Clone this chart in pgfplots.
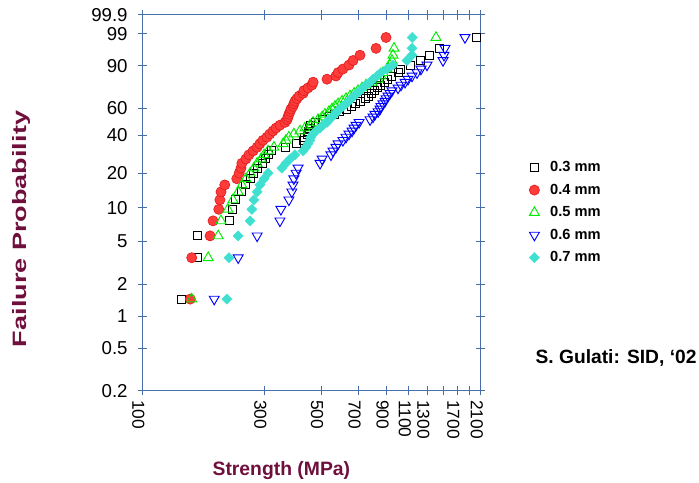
\documentclass[border=0pt]{standalone}
\usepackage{graphicx}
\usepackage{pgfplots}
\pgfplotsset{compat=1.18}
\usepackage{pgfplotstable}
\usepackage{fontspec}
\setmainfont{Liberation Sans}

\definecolor{axblue}{RGB}{70,110,170}
\definecolor{labmaroon}{RGB}{110,15,60}
\definecolor{ptred}{RGB}{255,60,60}
\definecolor{ptredline}{RGB}{225,30,30}
\definecolor{ptgreen}{RGB}{0,235,0}
\definecolor{ptblue}{RGB}{0,0,255}
\definecolor{ptcyan}{RGB}{64,224,208}

% F = failure probability (%), median ranks; s03..s07 = strength (MPa)
\pgfplotstableread{
F      s03  s04  s05  s06  s07
1.446  142  154  156  191  214
3.512  164  156  181  237  218
5.579  165  184  198  281  237
7.645  220  189  203  345  264
9.711  226  199  216  348  268
11.777 232  201  226  374  273
13.843 245  203  237  384  281
15.909 252  210  245  388  288
17.975 264  234  254  391  299
20.041 271  239  264  399  310
22.107 281  243  273  406  351
24.174 294  245  281  495  364
26.240 302  254  291  504  378
28.306 310  261  299  546  395
30.372 321  271  310  556  425
32.438 361  281  327  571  436
34.504 399  288  355  582  444
36.570 425  296  364  608  452
38.636 432  307  374  625  456
40.702 440  315  391  642  465
42.769 444  324  413  660  477
44.835 448  333  432  672  495
46.901 456  345  452  684  508
48.967 477  361  465  703  527
51.033 504  368  486  776  536
53.099 541  371  504  797  551
55.165 561  374  517  811  566
57.231 592  378  536  834  576
59.298 625  381  551  849  592
61.364 654  388  566  856  608
63.430 678  391  582  872  625
65.496 709  395  603  888  642
67.562 742  402  625  896  654
69.628 762  410  648  912  672
71.694 783  425  672  929  690
73.760 804  428  696  945  709
75.826 826  444  722  998  728
77.893 856  460  748  1025 748
79.959 880  465  790  1063 776
82.025 904  527  834  1092 797
84.091 945  571  856  1132 826
86.157 998  582  872  1184 856
88.223 1016 608  904  1227 904
90.289 1112 642  929  1295 954
92.355 1216 666  945  1496 1082
94.421 1319 709  954  1509 1130
96.488 1443 819  963  1523 1132
98.554 2013 896  1404 1823 1135
}\strength

\begin{document}
\begin{tikzpicture}
\path[use as bounding box] (-106.7pt,-69.2pt) rectangle (417.5pt,293.0pt);
\begin{axis}[
  at={(0pt,0pt)}, anchor=south west,
  scale only axis, width=253.8pt, height=281.8pt,
  xmode=log, xmin=100, xmax=2100,
  ymin=-6.2136, ymax=1.9326,
  xtick={100,300,500,700,900,1100,1300,1500,1700,1900,2100},
  xticklabels={100,300,500,700,900,1100,1300,,1700,,2100},
  xminorticks=false,
  ytick={-6.2136,-5.2958,-4.6002,-3.9019,-2.9702,-2.2504,-1.4999,-0.6717,-0.0874,0.8340,1.5272,1.9326},
  yticklabels={0.2,0.5,1,2,5,10,20,40,60,90,99,99.9},
  tick align=center, major tick length=7pt,
  axis line style={axblue, line width=0.8pt},
  every tick/.style={axblue, line width=0.8pt},
  xticklabel style={rotate=-90, anchor=west, font=\fontsize{13}{13}\selectfont, yshift=-3pt},
  yticklabel style={font=\fontsize{14}{14}\selectfont, xshift=-4pt},
  clip=false,
  legend cell align=left,
  legend style={at={(1.131,0.625)}, anchor=north west, draw=none, fill=none,
    font=\bfseries\fontsize{11}{11}\selectfont, row sep=3.7pt,
    /tikz/every odd column/.append style={column sep=6pt}},
]
\addplot[only marks, mark=square, mark size=3pt, draw=black, line width=0.7pt]
  table[x=s03, y expr={ln(-ln(1-\thisrow{F}/100))}] {\strength};
\addlegendentry{0.3 mm}
\addplot[only marks, mark=*, mark size=3.8pt, draw=ptredline, fill=ptred, line width=0.5pt]
  table[x=s04, y expr={ln(-ln(1-\thisrow{F}/100))}] {\strength};
\addlegendentry{0.4 mm}
\addplot[only marks, mark=triangle, mark size=4.3pt, draw=ptgreen, line width=0.7pt]
  table[x=s05, y expr={ln(-ln(1-\thisrow{F}/100))}] {\strength};
\addlegendentry{0.5 mm}
\addplot[only marks, mark=triangle, mark size=4.3pt, mark options={rotate=180}, draw=ptblue, line width=0.7pt]
  table[x=s06, y expr={ln(-ln(1-\thisrow{F}/100))}] {\strength};
\addlegendentry{0.6 mm}
\addplot[only marks, mark=square*, mark size=2.7pt, mark options={rotate=45}, draw=ptcyan, fill=ptcyan, line width=0.3pt]
  table[x=s07, y expr={ln(-ln(1-\thisrow{F}/100))}] {\strength};
\addlegendentry{0.7 mm}
\end{axis}
\node[font=\bfseries\fontsize{14.5}{14.5}\selectfont, text=labmaroon] at (104.3pt,-60pt) {Strength (MPa)};
\node[font=\bfseries\fontsize{14.5}{14.5}\selectfont, text=labmaroon, rotate=90] at (-90.5pt,121.3pt) {\scalebox{1.4}[1]{Failure Probability}};
\node[font=\bfseries\fontsize{14.4}{14.4}\selectfont] at (355.3pt,24.5pt) {S. Gulati: SID, `02};
\end{tikzpicture}
\end{document}
